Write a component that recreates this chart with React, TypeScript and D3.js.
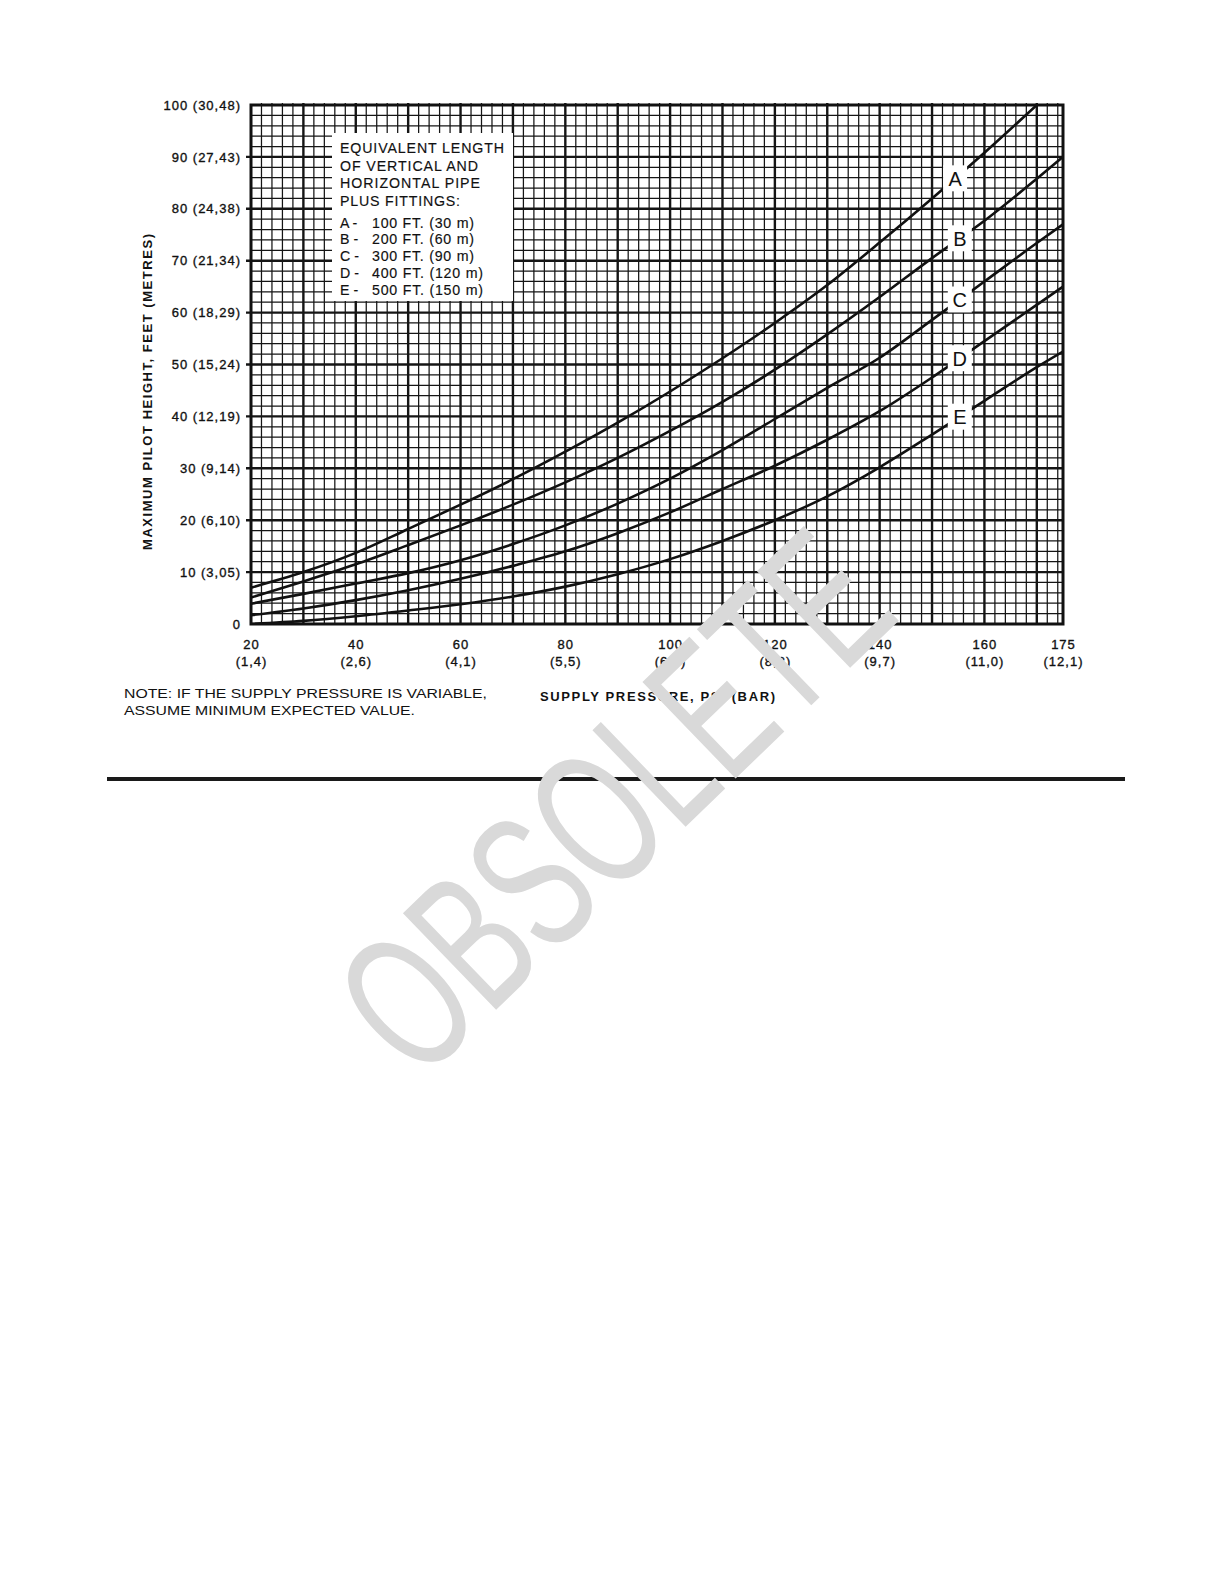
import React from 'react';
import * as d3 from 'd3';

// Supply pressure (psi) sample points for the curves
const pressurePsi = [20, 30, 40, 50, 60, 70, 80, 90, 100, 110, 120, 130, 140, 150, 160, 170, 175];

// Maximum pilot height (ft) for each equivalent pipe length
const heightA = [7, 10, 13.7, 18.3, 23, 27.9, 33.2, 38.8, 44.8, 51.2, 58, 65.3, 73.5, 82, 90.8, 100];
const heightB = [5.1, 8.2, 11.5, 15.2, 19, 23, 27.3, 32, 37.2, 42.8, 49, 55.8, 63, 70.5, 77.7, 85.8, 90];
const heightC = [3.9, 5.8, 7.8, 9.8, 12.3, 15.4, 19, 23.2, 28, 33.5, 39.5, 45.5, 51.3, 58.6, 66, 73.4, 77];
const heightD = [1.7, 3, 4.6, 6.5, 8.7, 11.2, 14, 17.5, 21.5, 26, 30.5, 35.5, 41, 47.5, 54.5, 61.5, 65];
const heightE = [0, 0.6, 1.5, 2.6, 3.8, 5.3, 7.2, 9.6, 12.5, 16, 20, 24.6, 30.2, 36.5, 43, 49.5, 52.5];

const curveNames = ['A', 'B', 'C', 'D', 'E'];
const curveLabelPsi = [154.4, 155.3, 155.3, 155.3, 155.3];

const yTickFeet = [0, 10, 20, 30, 40, 50, 60, 70, 80, 90, 100];
const yTickMetres = ['', '(3,05)', '(6,10)', '(9,14)', '(12,19)', '(15,24)', '(18,29)', '(21,34)', '(24,38)', '(27,43)', '(30,48)'];
const xTickPsi = [20, 40, 60, 80, 100, 120, 140, 160, 175];
const xTickBar = ['(1,4)', '(2,6)', '(4,1)', '(5,5)', '(6,9)', '(8,3)', '(9,7)', '(11,0)', '(12,1)'];

const legendTitle = ['EQUIVALENT LENGTH', 'OF VERTICAL AND', 'HORIZONTAL PIPE', 'PLUS FITTINGS:'];
const legendItems = ['100 FT. (30 m)', '200 FT. (60 m)', '300 FT. (90 m)', '400 FT. (120 m)', '500 FT. (150 m)'];

const noteLines = ['NOTE: IF THE SUPPLY PRESSURE IS VARIABLE,', 'ASSUME MINIMUM EXPECTED VALUE.'];

const FONT = '"Liberation Sans", Arial, Helvetica, sans-serif';

export default function App() {
  const x = d3.scaleLinear().domain([20, 175]).range([251, 1063]);
  const y = d3.scaleLinear().domain([0, 100]).range([624, 105]);

  const series = [heightA, heightB, heightC, heightD, heightE];

  const line = d3
    .line<[number, number]>()
    .x((d) => x(d[0]))
    .y((d) => y(d[1]))
    .curve(d3.curveMonotoneX);

  const vLines = d3.range(22, 175, 2);
  const hLines = d3.range(2, 100, 2);

  const gridLines = (
    <g stroke="#151515">
      {vLines.map((p) => (
        <line key={'v' + p} x1={x(p)} x2={x(p)} y1={y(0)} y2={y(100) - 2} strokeWidth={p % 10 === 0 ? 2.4 : 1.25} />
      ))}
      {hLines.map((h) => (
        <line
          key={'h' + h}
          x1={x(20) - (h % 10 === 0 ? 5 : 0)}
          x2={x(175)}
          y1={y(h)}
          y2={y(h)}
          strokeWidth={h % 10 === 0 ? 2.4 : 1.25}
        />
      ))}
    </g>
  );

  // legend panel
  const box = { x0: 328, y0: 129, x1: 517, y1: 305 };
  const inset = 4;

  const interp = (vals: number[], p: number) => {
    const xs = pressurePsi.slice(0, vals.length);
    const i = d3.bisectRight(xs, p) - 1;
    const t = (p - xs[i]) / (xs[i + 1] - xs[i]);
    return vals[i] + t * (vals[i + 1] - vals[i]);
  };

  return (
    <svg
      width={1224}
      height={1584}
      style={{ position: 'absolute', left: 0, top: 0, display: 'block', background: '#fff' }}
      fontFamily={FONT}
    >
      <rect x={0} y={0} width={1224} height={1584} fill="#fff" />
      <defs>
        <clipPath id="plotClip">
          <rect x={x(20)} y={y(100)} width={x(175) - x(20)} height={y(0) - y(100)} />
        </clipPath>
        <clipPath id="legendFrame">
          <path
            clipRule="evenodd"
            d={`M${box.x0},${box.y0}H${box.x1}V${box.y1}H${box.x0}Z M${box.x0 + inset},${box.y0 + inset}V${box.y1 - inset}H${box.x1 - inset}V${box.y0 + inset}Z`}
          />
        </clipPath>
      </defs>

      {gridLines}

      {/* legend panel with grid stubs around its edge */}
      <rect x={box.x0} y={box.y0} width={box.x1 - box.x0} height={box.y1 - box.y0} fill="#fff" />
      <g clipPath="url(#legendFrame)">{gridLines}</g>
      <g fill="#111" fontSize={14.2} stroke="#111" strokeWidth={0.15}>
        {legendTitle.map((t, i) => (
          <text key={t} x={340} y={153 + i * 17.6} textLength={[164, 138, 140, 120][i]} lengthAdjust="spacing">
            {t}
          </text>
        ))}
        {legendItems.map((t, i) => (
          <g key={t}>
            <text x={340} y={227.5 + i * 16.8}>{curveNames[i] + ' -'}</text>
            <text x={372} y={227.5 + i * 16.8} textLength={i >= 3 ? 111 : 102} lengthAdjust="spacing">
              {t}
            </text>
          </g>
        ))}
      </g>

      {/* curves */}
      <g clipPath="url(#plotClip)" fill="none" stroke="#111" strokeWidth={2.6} strokeLinecap="round">
        {series.map((vals, i) => (
          <path key={curveNames[i]} d={line(vals.map((v, j) => [pressurePsi[j], v] as [number, number])) || ''} />
        ))}
      </g>

      {/* curve letters */}
      {series.map((vals, i) => {
        const cx = x(curveLabelPsi[i]);
        const cy = y(interp(vals, curveLabelPsi[i]));
        return (
          <g key={'lab' + i}>
            <rect x={cx - 12} y={cy - 13} width={24} height={26} fill="#fff" />
            <text x={cx} y={cy + 7.5} textAnchor="middle" fontSize={20} fill="#111">
              {curveNames[i]}
            </text>
          </g>
        );
      })}

      {/* plot frame */}
      <rect x={x(20)} y={y(100)} width={x(175) - x(20)} height={y(0) - y(100)} fill="none" stroke="#111" strokeWidth={3} />

      {/* y axis labels */}
      <g fontSize={13} fill="#111" stroke="#111" strokeWidth={0.35} letterSpacing={1} textAnchor="end">
        {yTickFeet.map((f, i) => (
          <text key={f} x={241} y={y(f) + 4.6}>
            {yTickMetres[i] ? `${f} ${yTickMetres[i]}` : `${f}`}
          </text>
        ))}
      </g>

      {/* x axis labels */}
      <g fontSize={13} fill="#111" stroke="#111" strokeWidth={0.35} letterSpacing={1} textAnchor="middle">
        {xTickPsi.map((p, i) => (
          <g key={p}>
            <text x={x(p) + 0.5} y={649}>{p}</text>
            <text x={x(p) + 0.5} y={666}>{xTickBar[i]}</text>
          </g>
        ))}
      </g>

      {/* axis titles */}
      <text
        transform="translate(152,392) rotate(-90)"
        textAnchor="middle"
        fontSize={13}
        fontWeight="bold"
        fill="#111"
        textLength={316}
        lengthAdjust="spacing"
      >
        MAXIMUM PILOT HEIGHT, FEET (METRES)
      </text>
      <text x={540} y={701} fontSize={13} fontWeight="bold" fill="#111" textLength={235} lengthAdjust="spacing">
        SUPPLY PRESSURE, PSI (BAR)
      </text>

      {/* note */}
      <g fontSize={13.5} fill="#111">
        <text x={124} y={698} textLength={363} lengthAdjust="spacingAndGlyphs">{noteLines[0]}</text>
        <text x={124} y={715} textLength={291} lengthAdjust="spacingAndGlyphs">{noteLines[1]}</text>
      </g>

      {/* page rule */}
      <line x1={107} x2={1125} y1={779} y2={779} stroke="#1a1a1a" strokeWidth={4} />

      {/* watermark */}
      <text
        transform="translate(612,800) rotate(-44) scale(0.64,1)"
        textAnchor="middle"
        dy="0.36em"
        fontSize={195}
        fill="#d9d9d9"
      >
        OBSOLETE
      </text>
    </svg>
  );
}
